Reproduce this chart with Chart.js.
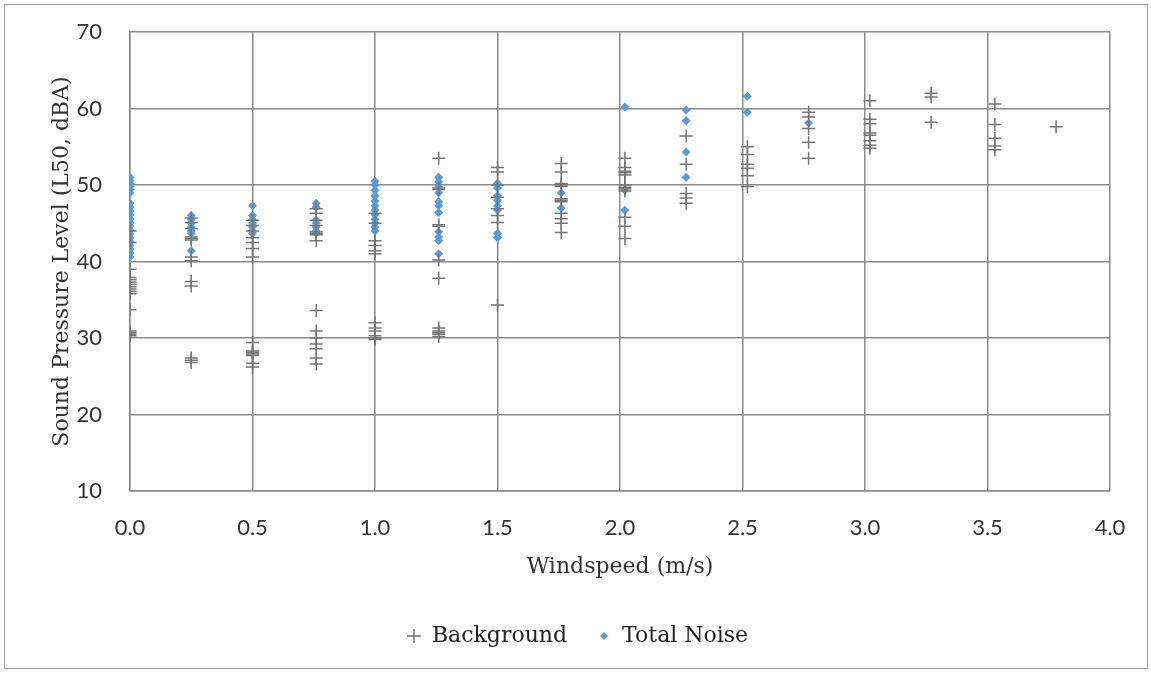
<!DOCTYPE html>
<html>
<head>
<meta charset="utf-8">
<script src="https://cdn.jsdelivr.net/npm/chart.js@4.4.1/dist/chart.umd.min.js"></script>
<style>
  html, body { margin: 0; padding: 0; background: #fff; }
  #wrap { width: 1151px; height: 673px; position: relative; }
</style>
</head>
<body>
<div id="wrap"><canvas id="chart"></canvas></div>
<script>
// wind speed columns (m/s)
const windspeeds = [0.0, 0.25, 0.5, 0.76, 1.0, 1.26, 1.5, 1.76, 2.02, 2.27, 2.52, 2.77, 3.02, 3.27, 3.53, 3.78];

// Background L50 (dBA) per wind speed column
const backgroundLevels = [
    [44.0, 42.5, 39.0, 37.9, 37.6, 37.3, 37.0, 36.7, 36.4, 36.1, 35.8, 33.7, 30.9, 30.7, 30.5, 30.3],
    [45.7, 45.1, 44.3, 43.2, 43.0, 42.8, 40.6, 40.1, 37.4, 36.8, 27.4, 27.1, 26.8],
    [45.4, 44.7, 44.0, 43.1, 42.5, 41.7, 40.6, 29.4, 28.3, 28.1, 27.9, 27.7, 26.7, 26.2],
    [46.9, 46.3, 45.4, 44.7, 43.9, 43.7, 43.5, 42.7, 33.6, 30.9, 30.0, 29.2, 28.6, 27.4, 26.6],
    [46.3, 45.0, 42.7, 42.1, 41.4, 41.0, 32.0, 31.3, 30.9, 30.3, 30.0, 29.8],
    [53.5, 49.6, 49.4, 44.8, 44.6, 40.2, 37.8, 31.3, 30.9, 30.7, 30.5, 30.2],
    [52.3, 51.7, 50.0, 48.4, 46.9, 46.0, 45.1, 34.3],
    [52.8, 51.7, 50.2, 50.0, 49.8, 48.2, 48.0, 47.8, 46.3, 45.6, 45.0, 43.8],
    [53.5, 52.3, 51.8, 51.6, 51.3, 50.0, 49.7, 49.5, 49.2, 45.8, 44.6, 43.0],
    [56.4, 52.7, 48.9, 48.3, 47.6],
    [55.0, 54.0, 52.7, 52.2, 51.2, 49.8],
    [59.5, 58.9, 57.4, 55.6, 53.5],
    [61.0, 58.6, 58.0, 56.8, 56.5, 55.8, 55.2, 54.8],
    [62.0, 61.5, 58.2],
    [60.6, 57.9, 56.1, 55.1, 54.6],
    [57.6]
];

// Total Noise L50 (dBA) per wind speed column
const totalNoiseLevels = [
    [51.0, 50.6, 50.2, 49.8, 49.4, 49.0, 47.6, 47.1, 46.6, 46.1, 45.6, 45.1, 44.6, 44.1, 43.6, 43.1, 42.6, 42.1, 41.6, 41.1, 40.6],
    [46.0, 45.5, 45.0, 44.5, 44.0, 43.7, 41.4],
    [47.3, 46.0, 45.5, 45.0, 44.5, 44.0, 43.7],
    [47.6, 47.1, 45.4, 45.0, 44.5, 44.0, 43.7],
    [50.5, 50.0, 49.3, 48.6, 47.9, 47.3, 46.7, 46.1, 45.5, 45.0, 44.5, 44.0],
    [51.0, 50.4, 49.8, 49.0, 47.8, 47.3, 46.4, 43.9, 43.2, 42.7, 41.0],
    [50.2, 49.6, 48.6, 48.0, 47.3, 46.7, 43.7, 43.1],
    [49.0, 47.0],
    [60.2, 49.3, 46.7],
    [59.8, 58.4, 54.3, 51.0],
    [61.6, 59.5],
    [58.1],
    [], [], [], []
];

const yTicks = [10, 20, 30, 40, 50, 60, 70];
const xTicks = [0, 0.5, 1, 1.5, 2, 2.5, 3, 3.5, 4];

const bgColor = '#767676';
const noiseColor = '#5b9bd5';

function toPoints(levels) {
    const pts = [];
    levels.forEach((col, i) => {
        col.forEach(v => pts.push({ x: windspeeds[i], y: v }));
    });
    return pts;
}

// small legend symbols, drawn at their own size
function legendCross() {
    const c = document.createElement('canvas');
    c.width = 16; c.height = 16;
    const g = c.getContext('2d');
    g.strokeStyle = bgColor;
    g.lineWidth = 1.5;
    g.beginPath();
    g.moveTo(1, 8); g.lineTo(15, 8);
    g.moveTo(8, 1); g.lineTo(8, 15);
    g.stroke();
    return c;
}
function legendDiamond() {
    const c = document.createElement('canvas');
    c.width = 10; c.height = 10;
    const g = c.getContext('2d');
    g.fillStyle = noiseColor;
    g.beginPath();
    g.moveTo(5, 1); g.lineTo(9, 5); g.lineTo(5, 9); g.lineTo(1, 5);
    g.closePath();
    g.fill();
    return c;
}
const legendIcons = [legendCross(), legendDiamond()];

const serif = '"DejaVu Serif", serif';
const sans = 'Lato, "Open Sans", sans-serif';
const gridColor = '#8a8a8a';

// white background + thin frame around the whole picture
const framePlugin = {
    id: 'frame',
    beforeDraw(chart) {
        const ctx = chart.ctx;
        ctx.save();
        ctx.fillStyle = '#fff';
        ctx.fillRect(0, 0, chart.width, chart.height);
        ctx.strokeStyle = '#a0a0a0';
        ctx.lineWidth = 1;
        ctx.strokeRect(4.5, 4.5, chart.width - 8, chart.height - 9);
        ctx.restore();
    }
};

new Chart(document.getElementById('chart'), {
    type: 'scatter',
    data: {
        datasets: [
            {
                label: 'Background',
                data: toPoints(backgroundLevels),
                pointStyle: 'cross',
                pointRadius: 6.5,
                pointBorderWidth: 1.5,
                borderColor: bgColor,
                backgroundColor: bgColor
            },
            {
                label: 'Total Noise',
                data: toPoints(totalNoiseLevels),
                pointStyle: 'rectRot',
                pointRadius: 4.5,
                pointBorderWidth: 0,
                borderColor: noiseColor,
                backgroundColor: noiseColor
            }
        ]
    },
    options: {
        responsive: true,
        maintainAspectRatio: false,
        animation: false,
        layout: { padding: { left: 45, right: 41, top: 32, bottom: 16 } },
        plugins: {
            tooltip: { enabled: false },
            legend: {
                position: 'bottom',
                labels: {
                    usePointStyle: true,
                    pointStyleWidth: 14,
                    boxHeight: 14,
                    color: '#222',
                    font: { family: serif, size: 22 },
                    padding: 30,
                    generateLabels: chart => {
                        const items = Chart.defaults.plugins.legend.labels.generateLabels(chart);
                        items.forEach((it, i) => { it.pointStyle = legendIcons[i]; });
                        return items;
                    }
                }
            }
        },
        scales: {
            x: {
                type: 'linear',
                min: 0,
                max: 4,
                afterBuildTicks: axis => { axis.ticks = xTicks.map(v => ({ value: v })); },
                afterFit: axis => { axis.height = 104; },
                ticks: {
                    callback: v => Number(v).toFixed(1),
                    color: '#333',
                    font: { family: sans, size: 22 },
                    padding: 0
                },
                grid: { color: gridColor, lineWidth: 1.5, drawTicks: true, tickLength: 24, tickColor: 'rgba(0,0,0,0)' },
                border: { color: gridColor, width: 1.5 },
                title: {
                    display: true,
                    text: 'Windspeed (m/s)',
                    color: '#333',
                    font: { family: serif, size: 22 },
                    padding: { top: 4, bottom: 15 }
                }
            },
            y: {
                min: 10,
                max: 70,
                afterBuildTicks: axis => { axis.ticks = yTicks.map(v => ({ value: v })); },
                afterFit: axis => { axis.width = 85; },
                ticks: {
                    color: '#333',
                    font: { family: sans, size: 22 },
                    padding: 0
                },
                grid: { color: gridColor, lineWidth: 1.5, drawTicks: true, tickLength: 28, tickColor: 'rgba(0,0,0,0)' },
                border: { color: gridColor, width: 1.5 },
                title: {
                    display: true,
                    text: 'Sound Pressure Level (L50, dBA)',
                    color: '#333',
                    font: { family: serif, size: 22 },
                    padding: { top: 4, bottom: 4 }
                }
            }
        }
    },
    plugins: [framePlugin]
});
</script>
</body>
</html>
